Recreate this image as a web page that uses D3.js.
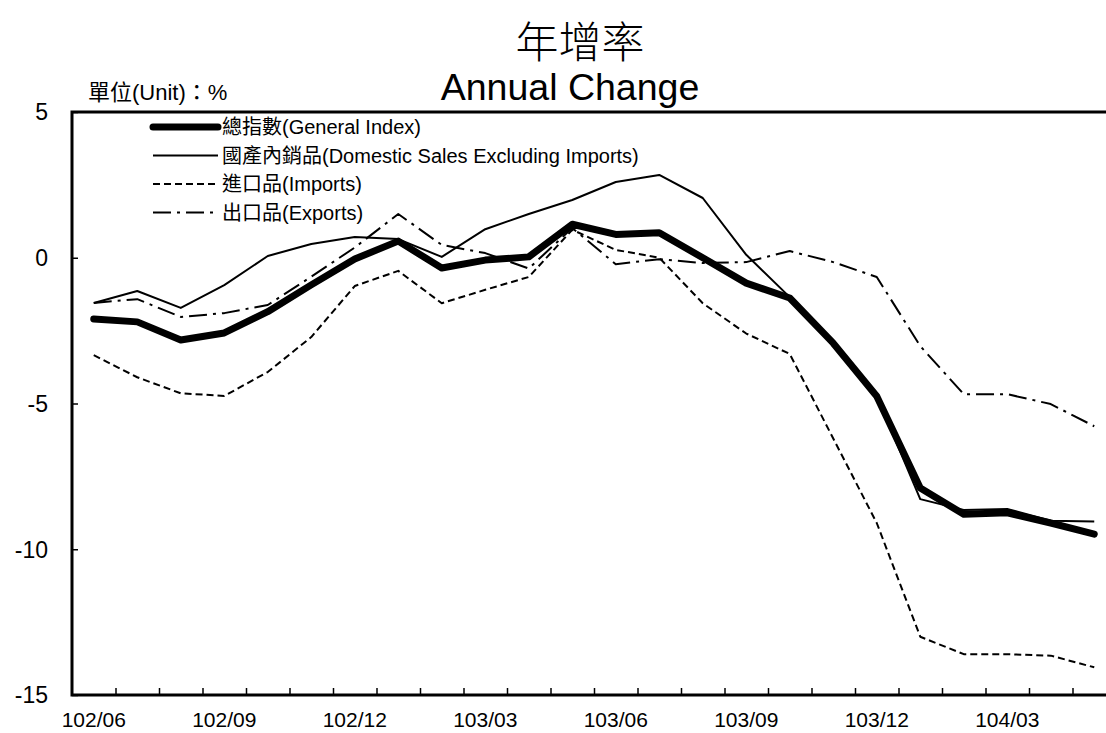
<!DOCTYPE html>
<html>
<head>
<meta charset="utf-8">
<script src="https://cdnjs.cloudflare.com/ajax/libs/d3/7.8.5/d3.min.js"></script>
<style>
	body { margin: 0; background: #fff; }
	text { font-family: "Liberation Sans", Arial, "Noto Sans CJK TC", sans-serif; fill: #000; }
</style>
</head>
<body>
<div id="chart"></div>
<script>
// months 102/06 .. 104/05
var months = ["102/06","102/07","102/08","102/09","102/10","102/11","102/12",
			  "103/01","103/02","103/03","103/04","103/05","103/06","103/07","103/08","103/09","103/10","103/11","103/12",
			  "104/01","104/02","104/03","104/04","104/05"];
var generalIndex = [-2.1, -2.2, -2.82, -2.58, -1.85, -0.93, -0.04, 0.57, -0.35, -0.08, 0.03, 1.15,
					0.8, 0.86, 0.0, -0.87, -1.38, -2.93, -4.75, -7.9, -8.8, -8.75, -9.1, -9.48];
var domesticSales = [-1.55, -1.14, -1.72, -0.94, 0.06, 0.47, 0.71, 0.64, 0.03, 0.98, 1.5, 1.98,
					2.6, 2.84, 2.05, 0.1, -1.35, -2.9, -4.75, -8.28, -8.65, -8.62, -9.02, -9.05];
var imports = [-3.34, -4.1, -4.65, -4.74, -3.92, -2.72, -0.97, -0.45, -1.56, -1.1, -0.66, 0.96,
			   0.27, 0.0, -1.56, -2.6, -3.3, -6.2, -9.1, -13.0, -13.6, -13.6, -13.65, -14.05];
var exportsData = [-1.55, -1.42, -2.03, -1.9, -1.62, -0.65, 0.35, 1.5, 0.44, 0.16, -0.37, 1.02,
				   -0.22, -0.05, -0.18, -0.15, 0.23, -0.15, -0.66, -3.03, -4.68, -4.68, -5.02, -5.78];
var yTicks = [5, 0, -5, -10, -15];
var legendLabels = ["總指數(General Index)", "國產內銷品(Domestic Sales Excluding Imports)", "進口品(Imports)", "出口品(Exports)"];

var width = 1106, height = 733;
var margin = {top: 112, left: 72, bottom: 38};
var plotRight = 1116; // frame runs past the picture edge

var svg = d3.select("#chart").append("svg")
	.attr("width", width)
	.attr("height", height);

///////////////////////////////////////////////////////////////////////////
/////////////////////////////// Scales ////////////////////////////////////
///////////////////////////////////////////////////////////////////////////

var x = d3.scaleLinear().domain([0, months.length]).range([margin.left, plotRight]);
var y = d3.scaleLinear().domain([-15, 5]).range([height - margin.bottom, margin.top]);

///////////////////////////////////////////////////////////////////////////
//////////////////////////////// Titles ///////////////////////////////////
///////////////////////////////////////////////////////////////////////////

svg.append("text")
	.attr("x", 580).attr("y", 58)
	.attr("text-anchor", "middle")
	.style("font-family", "'Noto Sans CJK TC', sans-serif")
	.style("font-weight", 300)
	.style("font-size", "43px")
	.text("年增率");

svg.append("text")
	.attr("x", 570).attr("y", 100)
	.attr("text-anchor", "middle")
	.style("font-size", "37.5px")
	.text("Annual Change");

svg.append("text")
	.attr("x", 88).attr("y", 100)
	.style("font-size", "22px")
	.text("單位(Unit)：%");

///////////////////////////////////////////////////////////////////////////
///////////////////////////////// Axes ////////////////////////////////////
///////////////////////////////////////////////////////////////////////////

// y axis inside ticks
svg.append("g")
	.attr("transform", "translate(" + margin.left + ",0)")
	.call(d3.axisRight(y).tickValues(yTicks).tickSize(6).tickFormat(""))
	.call(function(g) { g.select(".domain").remove(); g.selectAll("line").attr("stroke-width", 1.5); });

svg.selectAll(".y-label")
	.data(yTicks)
	.enter().append("text")
	.attr("class", "y-label")
	.attr("x", 48)
	.attr("y", function(d) { return y(d); })
	.attr("dy", "0.36em")
	.attr("text-anchor", "end")
	.style("font-size", "23px")
	.text(function(d) { return d; });

// x axis month ticks (at month boundaries, pointing up)
svg.append("g")
	.attr("transform", "translate(0," + y(-15) + ")")
	.call(d3.axisBottom(x).tickValues(d3.range(1, months.length)).tickSize(-7).tickFormat(""))
	.call(function(g) { g.select(".domain").remove(); g.selectAll("line").attr("stroke-width", 1.5); });

// x labels centred in their month
svg.selectAll(".x-label")
	.data(months.filter(function(d, i) { return i % 3 === 0; }))
	.enter().append("text")
	.attr("class", "x-label")
	.attr("x", function(d) { return x(months.indexOf(d) + 0.5); })
	.attr("y", 727)
	.attr("text-anchor", "middle")
	.style("font-size", "21px")
	.text(function(d) { return d; });

// frame
svg.append("path")
	.attr("d", "M" + plotRight + "," + y(5) + "H" + x(0) + "V" + y(-15) + "H" + plotRight)
	.attr("fill", "none")
	.attr("stroke", "#000")
	.attr("stroke-width", 3);

///////////////////////////////////////////////////////////////////////////
///////////////////////////////// Lines ///////////////////////////////////
///////////////////////////////////////////////////////////////////////////

var line = d3.line()
	.x(function(d, i) { return x(i + 0.5); })
	.y(function(d) { return y(d); });

var series = [
	{data: exportsData, width: 2, dash: "18,6,3,6"},
	{data: imports, width: 2, dash: "7,4"},
	{data: domesticSales, width: 2, dash: null},
	{data: generalIndex, width: 7, dash: null}
];

series.forEach(function(s) {
	svg.append("path")
		.datum(s.data)
		.attr("d", line)
		.attr("fill", "none")
		.attr("stroke", "#000")
		.attr("stroke-width", s.width)
		.attr("stroke-linejoin", "round")
		.attr("stroke-linecap", s.width > 3 ? "round" : "butt")
		.attr("stroke-dasharray", s.dash);
});

///////////////////////////////////////////////////////////////////////////
//////////////////////////////// Legend ///////////////////////////////////
///////////////////////////////////////////////////////////////////////////

var legendStyles = [
	{width: 7, dash: null},
	{width: 2, dash: null},
	{width: 2, dash: "7,4"},
	{width: 2, dash: "18,6,3,6"}
];

var legend = svg.selectAll(".legend")
	.data(legendLabels)
	.enter().append("g")
	.attr("class", "legend")
	.attr("transform", function(d, i) { return "translate(153," + (127 + i * 28.5) + ")"; });

legend.append("line")
	.attr("x1", 0).attr("x2", 65)
	.attr("stroke", "#000")
	.attr("stroke-width", function(d, i) { return legendStyles[i].width; })
	.attr("stroke-linecap", function(d, i) { return i === 0 ? "round" : "butt"; })
	.attr("stroke-dasharray", function(d, i) { return legendStyles[i].dash; });

legend.append("text")
	.attr("x", 69)
	.attr("dy", "0.36em")
	.style("font-size", "20px")
	.text(function(d) { return d; });
</script>
</body>
</html>
